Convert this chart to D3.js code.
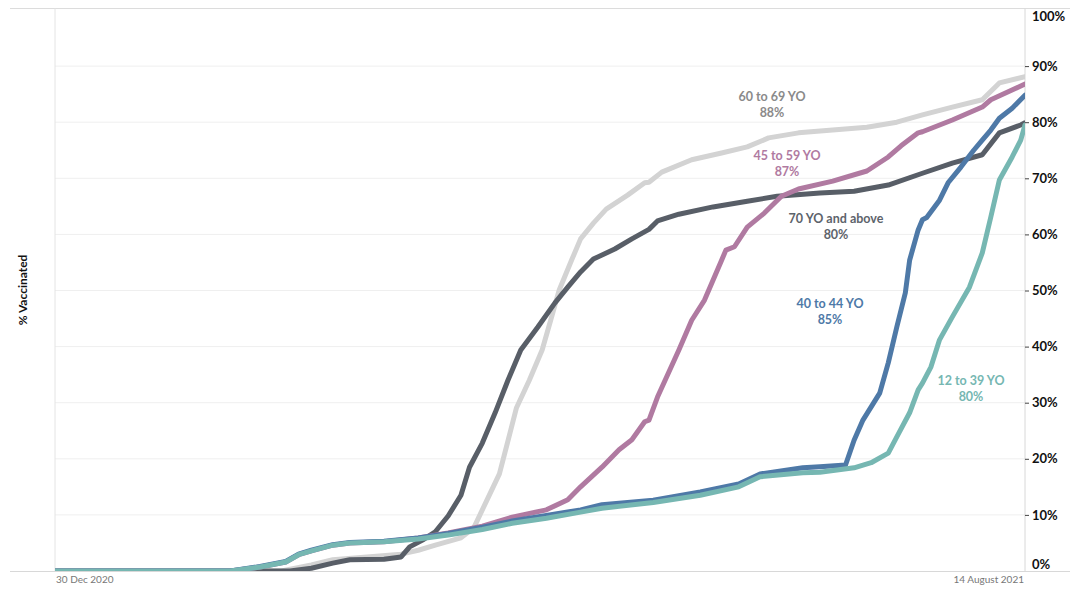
<!DOCTYPE html>
<html><head><meta charset="utf-8">
<script src="https://cdn.jsdelivr.net/npm/d3@7"></script>
<style>
html,body{margin:0;padding:0;background:#fff;}
svg{display:block;font-family:Lato,"Open Sans",sans-serif;}
</style></head>
<body><svg id="c" width="1080" height="607"></svg>
<script>
// x values: days since 30 Dec 2020
const startDate = "2020-12-30";
const endDate = "2021-08-14";
const yTicks = [0,10,20,30,40,50,60,70,80,90,100];

const days70 = [0,55,60,65,69,77,81,83,86,89,92,95,97,100,103,106,109,113,117,120,123,126,131,135,139,141,146,154,162,169,179,187,195,203,210,217,221,226,227];
const vals70 = [0,0,0.5,1.4,2.0,2.1,2.5,4.3,5.5,7.0,9.8,13.5,18.5,22.8,28.2,34.0,39.4,43.5,47.8,50.6,53.3,55.6,57.4,59.2,60.9,62.4,63.6,64.9,65.9,66.8,67.4,67.7,68.8,70.9,72.7,74.2,78.1,79.5,79.9];

const days60 = [0,53,60,65,73,81,85,89,95,98,101,104,106,108,111,114,116,118,121,123,126,129,134,138,139,142,149,156,162,167,174,182,190,197,203,210,217,221,227];
const vals60 = [0,0,1.1,2.0,2.5,3.0,3.7,4.6,5.9,7.7,12.5,17.3,23.2,29.1,34.0,39.4,44.7,50.1,55.6,59.2,62.0,64.5,67.0,69.2,69.3,71.1,73.3,74.5,75.6,77.2,78.1,78.6,79.1,80.0,81.3,82.7,84.0,87.0,88.1];

const days45 = [0,41,48,54,57,60,65,69,77,85,92,100,107,115,120,123,128,132,135,138,139,141,146,149,152,156,157,159,162,166,170,174,182,190,195,198,202,203,210,217,219,227];
const vals45 = [0,0,0.7,1.6,2.9,3.6,4.6,5.0,5.2,5.9,6.8,8.0,9.6,10.9,12.7,15.0,18.5,21.6,23.4,26.6,26.9,31.0,39.4,44.7,48.3,55.4,57.2,57.8,61.3,63.8,66.8,68.1,69.5,71.3,73.8,75.8,78.1,78.3,80.4,82.7,84.0,86.8];

const days40 = [0,41,48,54,57,60,65,69,77,85,92,100,107,115,123,128,140,151,160,165,175,179,185,187,189,193,195,197,199,200,202,203,204,207,209,212,215,217,219,221,224,227];
const vals40 = [0,0,0.8,1.7,3.0,3.7,4.7,5.1,5.3,5.9,6.7,7.8,8.9,9.9,10.9,11.8,12.6,14.1,15.5,17.3,18.4,18.6,18.9,23.3,26.8,31.7,37.1,43.5,49.6,55.4,60.8,62.6,63.0,66.1,69.2,72.0,75.0,76.8,78.6,80.7,82.5,84.8];

const days12 = [0,41,48,54,57,60,65,69,77,85,92,100,107,115,123,128,140,151,160,165,175,179,187,191,195,197,200,202,203,205,207,210,214,217,219,221,224,226,227];
const vals12 = [0,0,0.7,1.6,2.9,3.6,4.6,5.0,5.2,5.7,6.4,7.4,8.5,9.4,10.5,11.2,12.2,13.5,15.0,16.8,17.5,17.6,18.4,19.3,21.0,23.9,28.2,32.3,33.5,36.4,41.2,45.3,50.6,56.7,63.1,69.7,73.8,76.8,79.5];

const seriesNames = ["60 to 69 YO","70 YO and above","45 to 59 YO","40 to 44 YO","12 to 39 YO"];
const seriesFinal = ["88%","80%","87%","85%","80%"];

const svg = d3.select("#c");
const L = 55, R = 1025, T = 10, B = 571;
const parse = d3.timeParse("%Y-%m-%d");
const d0 = parse(startDate), d1 = parse(endDate);
const x = d3.scaleTime().domain([d0, d1]).range([L, R]);
const y = d3.scaleLinear().domain([0, 100]).range([B, T]);

// gridlines
svg.append("g").selectAll("line").data(yTicks.filter(t => t > 0 && t < 100)).join("line")
  .attr("x1", L).attr("x2", R).attr("y1", d => y(d)).attr("y2", d => y(d))
  .attr("stroke", "#efefef").attr("stroke-width", 1);

// frame lines
svg.append("line").attr("x1", 10).attr("x2", 1070).attr("y1", T - 1.5).attr("y2", T - 1.5).attr("stroke", "#dcdcdc");
svg.append("line").attr("x1", L).attr("x2", L).attr("y1", T - 1.5).attr("y2", B).attr("stroke", "#e4e4e4");

// right axis
const yAxis = d3.axisRight(y).tickValues(yTicks.filter(t => t > 0 && t < 100)).tickSize(4).tickFormat(d => d + "%");
const ga = svg.append("g").attr("transform", `translate(${R},0)`).call(yAxis);
ga.select(".domain").attr("stroke", "#d8d8d8").attr("d", `M0,${T - 1.5}V${B}`);
ga.selectAll(".tick line").attr("stroke", "#444");
ga.selectAll(".tick text").attr("x", 7).attr("fill", "#111").style("font-family", "Lato, sans-serif")
  .style("font-size", "13px").style("font-weight", "bold");
// end labels 0% and 100% shifted inward
svg.append("text").attr("x", R + 7).attr("y", y(0) - 6).attr("dy", "0.32em").text("0%")
  .attr("fill", "#111").style("font-size", "13px").style("font-weight", "bold");
svg.append("text").attr("x", R + 7).attr("y", y(100) + 7).attr("dy", "0.32em").text("100%")
  .attr("fill", "#111").style("font-size", "13px").style("font-weight", "bold");

// clip
svg.append("clipPath").attr("id", "clip").append("rect").attr("x", L).attr("y", 0).attr("width", R - L).attr("height", B);

const line = d3.line().x(d => x(d3.timeDay.offset(d0, d[0]))).y(d => y(d[1]));
const zip = (a, b) => a.map((d, i) => [d, b[i]]);
const series = [
  {data: zip(days60, vals60), color: "#d3d3d3"},
  {data: zip(days70, vals70), color: "#585e67"},
  {data: zip(days45, vals45), color: "#b07aa1"},
  {data: zip(days40, vals40), color: "#4e79a7"},
  {data: zip(days12, vals12), color: "#76b7b2"}
];
svg.append("g").attr("clip-path", "url(#clip)").selectAll("path").data(series).join("path")
  .attr("d", d => line(d.data)).attr("fill", "none").attr("stroke", d => d.color)
  .attr("stroke-width", 5).attr("stroke-linejoin", "round").attr("stroke-linecap", "round");

// bottom frame
svg.append("line").attr("x1", 10).attr("x2", 1070).attr("y1", B + 0.5).attr("y2", B + 0.5).attr("stroke", "#d8d8d8");

// x labels
svg.append("text").attr("x", L + 1).attr("y", 583).text("30 Dec 2020").attr("fill", "#777").style("font-size", "10px");
svg.append("text").attr("x", R - 1).attr("y", 583).attr("text-anchor", "end").text("14 August 2021").attr("fill", "#777").style("font-size", "10px");

// y title
svg.append("text").attr("transform", "translate(27,290) rotate(-90)").attr("text-anchor", "middle")
  .text("% Vaccinated").attr("fill", "#111").style("font-size", "12px").style("font-weight", "bold");

// series labels
const labelPos = [[772, 97], [836, 219], [787, 156], [830, 304], [971, 381]];
const labelColors = ["#8a8a8a", "#5d636b", "#b07aa1", "#4e79a7", "#76b7b2"];
seriesNames.forEach((n, i) => {
  const g = svg.append("text").attr("text-anchor", "middle").attr("fill", labelColors[i])
    .style("font-size", "12.5px").style("font-weight", "bold");
  g.append("tspan").attr("x", labelPos[i][0]).attr("y", labelPos[i][1] + 4).text(n);
  g.append("tspan").attr("x", labelPos[i][0]).attr("y", labelPos[i][1] + 20).text(seriesFinal[i]);
});
</script></body></html>
